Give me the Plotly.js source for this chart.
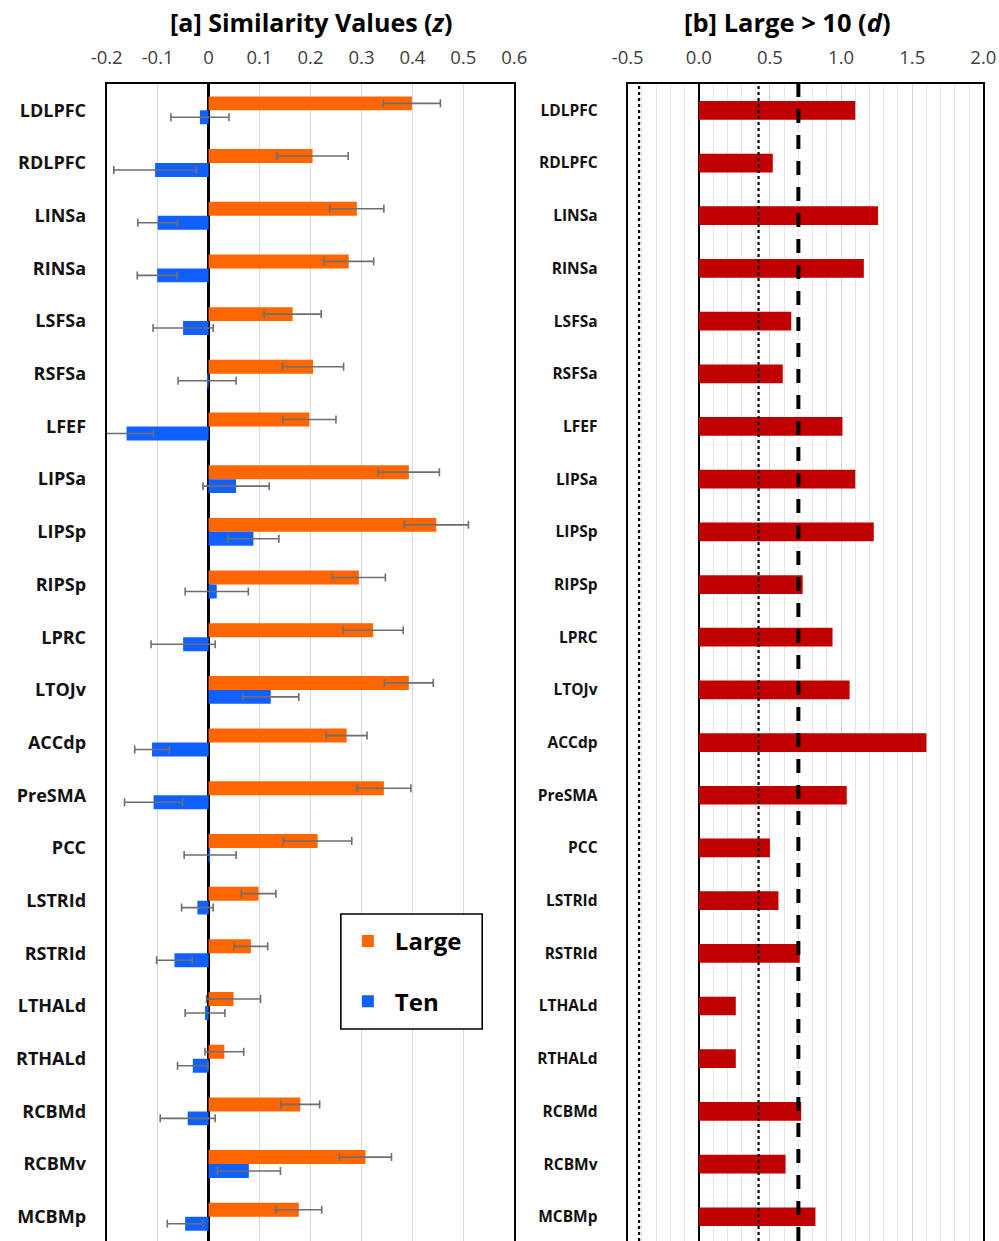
<!DOCTYPE html>
<html>
<head>
<meta charset="utf-8">
<script src="https://cdn.plot.ly/plotly-3.0.1.min.js"></script>
<style>
  html, body { margin: 0; padding: 0; background: #ffffff; }
  #chart { width: 999px; height: 1241px; }
</style>
</head>
<body>
<div id="chart"></div>
<script>
// ---- data ----
const regions = ['LDLPFC','RDLPFC','LINSa','RINSa','LSFSa','RSFSa','LFEF','LIPSa','LIPSp','RIPSp','LPRC','LTOJv','ACCdp','PreSMA','PCC','LSTRId','RSTRId','LTHALd','RTHALd','RCBMd','RCBMv','MCBMp'];

const largeVals = [0.399, 0.204, 0.291, 0.275, 0.165, 0.205, 0.198, 0.393, 0.447, 0.295, 0.323, 0.393, 0.271, 0.344, 0.214, 0.098, 0.083, 0.049, 0.031, 0.180, 0.308, 0.177];
const largeErr  = [0.056, 0.070, 0.053, 0.049, 0.056, 0.060, 0.052, 0.060, 0.063, 0.052, 0.059, 0.048, 0.040, 0.053, 0.067, 0.034, 0.033, 0.053, 0.038, 0.038, 0.051, 0.045];

const tenVals = [-0.017, -0.105, -0.100, -0.101, -0.050, -0.003, -0.161, 0.054, 0.088, 0.016, -0.050, 0.122, -0.111, -0.108, 0.003, -0.022, -0.067, -0.007, -0.031, -0.041, 0.079, -0.046];
const tenErr  = [0.057, 0.081, 0.039, 0.039, 0.059, 0.057, 0.053, 0.065, 0.050, 0.062, 0.063, 0.055, 0.034, 0.057, 0.051, 0.031, 0.035, 0.039, 0.030, 0.054, 0.062, 0.035];

const effectD = [1.10, 0.52, 1.26, 1.16, 0.65, 0.59, 1.01, 1.10, 1.23, 0.73, 0.94, 1.06, 1.60, 1.04, 0.50, 0.56, 0.71, 0.26, 0.26, 0.72, 0.61, 0.82];

const dottedLines = [-0.42, 0.42];
const dashedLine = 0.70;

const leftTickVals = [-0.2, -0.1, 0, 0.1, 0.2, 0.3, 0.4, 0.5, 0.6];
const leftTickText = ['-0.2', '-0.1', '0', '0.1', '0.2', '0.3', '0.4', '0.5', '0.6'];
const rightTickVals = [-0.5, 0, 0.5, 1.0, 1.5, 2.0];
const rightTickText = ['-0.5', '0.0', '0.5', '1.0', '1.5', '2.0'];

const titleA = '[a] Similarity Values (<i>z</i>)';
const titleB = '[b] Large > 10 (<i>d</i>)';

// ---- styles ----
const FONT = 'Open Sans, Lato, DejaVu Sans, sans-serif';
const errStyle = { type: 'data', visible: true, color: '#6e6e6e', thickness: 1.6, width: 4 };

const traces = [
  {
    type: 'bar', orientation: 'h', name: 'Large', legendgroup: 'a',
    y: regions, x: largeVals,
    error_x: Object.assign({ array: largeErr }, errStyle),
    marker: { color: '#FF6600', line: { width: 0 } },
    xaxis: 'x', yaxis: 'y', hoverinfo: 'x+y'
  },
  {
    type: 'bar', orientation: 'h', name: 'Ten', legendgroup: 'b',
    y: regions, x: tenVals,
    error_x: Object.assign({ array: tenErr }, errStyle),
    marker: { color: '#1060FF', line: { width: 0 } },
    xaxis: 'x', yaxis: 'y', hoverinfo: 'x+y'
  },
  {
    type: 'bar', orientation: 'h', name: 'Large > 10', showlegend: false,
    y: regions, x: effectD, width: 0.355,
    marker: { color: '#C00000', line: { width: 0 } },
    xaxis: 'x2', yaxis: 'y2', hoverinfo: 'x+y'
  }
];

const shapes = [];
dottedLines.forEach(v => shapes.push({
  type: 'line', xref: 'x2', yref: 'y2 domain', x0: v, x1: v, y0: 0, y1: 1,
  line: { color: '#000000', width: 2.2, dash: 'dot' }, layer: 'above'
}));
shapes.push({
  type: 'line', xref: 'x2', yref: 'y2 domain', x0: dashedLine, x1: dashedLine, y0: 0, y1: 1,
  line: { color: '#000000', width: 4, dash: '14px,12px' }, layer: 'above'
});
// legend frame (decoration)
shapes.push({
  type: 'rect', xref: 'paper', yref: 'paper',
  x0: 0.3412, x1: 0.4827, y0: 0.1832, y1: 0.2826,
  fillcolor: '#ffffff', line: { color: '#000000', width: 1.6 }, layer: 'above'
});

const yRange = [21.46, -0.5];

const layout = {
  width: 999, height: 1241,
  margin: { l: 0, r: 0, t: 84, b: 0, pad: 0 },
  paper_bgcolor: '#ffffff', plot_bgcolor: '#ffffff',
  barmode: 'group', bargap: 0.47, bargroupgap: 0,
  showlegend: true,
  legend: {
    x: 0.3412, y: 0.2783, xanchor: 'left', yanchor: 'top',
    bgcolor: 'rgba(0,0,0,0)', borderwidth: 0,
    font: { family: FONT, size: 24, weight: 'bold', color: '#000000' },
    traceorder: 'grouped', tracegroupgap: 26, itemwidth: 44
  },
  xaxis: {
    domain: [0.1068, 0.5148], range: [-0.2, 0.6], side: 'top', anchor: 'y',
    tickmode: 'array', tickvals: leftTickVals, ticktext: leftTickText,
    ticks: '', ticklabelstandoff: 11,
    tickfont: { family: FONT, size: 18.5, color: '#404040' },
    showgrid: true, gridcolor: '#d9d9d9', gridwidth: 1.5,
    zeroline: true, zerolinecolor: '#000000', zerolinewidth: 3,
    showline: true, linecolor: '#000000', linewidth: 2, mirror: false,
    fixedrange: true
  },
  yaxis: {
    type: 'category', range: yRange, anchor: 'x',
    ticks: '', ticklabelstandoff: 15,
    tickfont: { family: FONT, size: 18, weight: 'bold', color: '#111111' },
    showgrid: false, zeroline: false,
    showline: true, linecolor: '#000000', linewidth: 2, mirror: true,
    fixedrange: true
  },
  xaxis2: {
    domain: [0.6283, 0.9843], range: [-0.5, 2.0], side: 'top', anchor: 'y2',
    tickmode: 'array', tickvals: rightTickVals, ticktext: rightTickText,
    ticks: '', ticklabelstandoff: 11,
    tickfont: { family: FONT, size: 18.5, color: '#404040' },
    showgrid: true, gridcolor: '#d4d4d4', gridwidth: 1,
    minor: { dtick: 0.1, showgrid: true, gridcolor: '#e6e6e6', gridwidth: 1, ticks: '' },
    zeroline: true, zerolinecolor: '#000000', zerolinewidth: 2.5,
    showline: true, linecolor: '#000000', linewidth: 2, mirror: false,
    fixedrange: true
  },
  yaxis2: {
    type: 'category', range: yRange, anchor: 'x2',
    ticks: '', ticklabelstandoff: 25,
    tickfont: { family: FONT, size: 15.5, weight: 'bold', color: '#111111' },
    showgrid: false, zeroline: false,
    showline: true, linecolor: '#000000', linewidth: 2, mirror: true,
    fixedrange: true
  },
  shapes: shapes,
  annotations: [
    { text: titleA, xref: 'paper', yref: 'paper', x: 0.3113, y: 1.0536,
      xanchor: 'center', yanchor: 'middle', showarrow: false,
      font: { family: FONT, size: 25, weight: 'bold', color: '#000000' } },
    { text: titleB, xref: 'paper', yref: 'paper', x: 0.7878, y: 1.0536,
      xanchor: 'center', yanchor: 'middle', showarrow: false,
      font: { family: FONT, size: 25.5, weight: 'bold', color: '#000000' } }
  ]
};

Plotly.newPlot('chart', traces, layout, { displayModeBar: false, staticPlot: true });
</script>
</body>
</html>
